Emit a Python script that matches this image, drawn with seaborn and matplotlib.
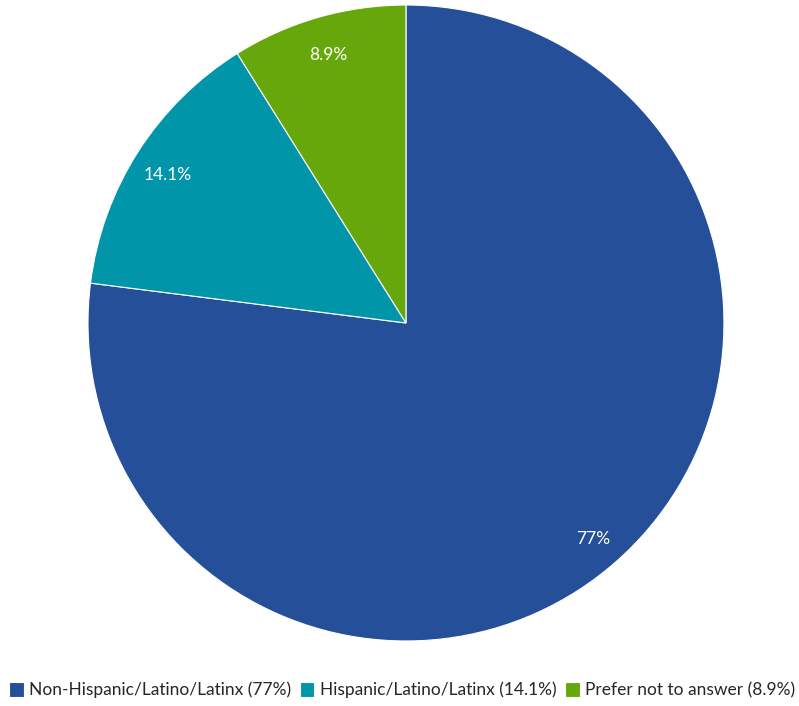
import matplotlib
matplotlib.use("Agg")
import matplotlib.pyplot as plt
import matplotlib.transforms as mtransforms
import seaborn as sns

categories = ["Non-Hispanic/Latino/Latinx", "Hispanic/Latino/Latinx", "Prefer not to answer"]
values = [77.0, 14.1, 8.9]
pct_labels = ["77%", "14.1%", "8.9%"]
colors = ["#255099", "#0095A8", "#66A80C"]

sns.set_theme(style="white")
plt.rcParams['font.family'] = ['Lato', 'DejaVu Sans']

fig = plt.figure(figsize=(7.99, 7.06), dpi=100)
ax = fig.add_axes([0.1101, 0.0921, 0.796, 0.9008])

wedges, texts = ax.pie(values, colors=colors, startangle=90, counterclock=False,
                       labels=pct_labels, labeldistance=0.89, radius=1.0,
                       wedgeprops=dict(edgecolor="white", linewidth=0.8))
offset = mtransforms.ScaledTranslation(0, -4 / 100, fig.dpi_scale_trans)
for t in texts:
    t.set_color("white")
    t.set_fontsize(12.5)
    t.set_ha("center")
    t.set_va("center")
    t.set_transform(t.get_transform() + offset)
ax.set_aspect("equal")
ax.set_xlim(-1, 1)
ax.set_ylim(-1, 1)
ax.axis("off")

legend_labels = [f"{c} ({p})" for c, p in zip(categories, pct_labels)]
fig.legend(wedges, legend_labels, loc="center", bbox_to_anchor=(0.503, 1 - 690 / 706),
           ncol=3, frameon=False, fontsize=12.5, handlelength=0.85, handleheight=1.0,
           handletextpad=0.3, columnspacing=0.5)

fig.savefig("out.png", dpi=100)
